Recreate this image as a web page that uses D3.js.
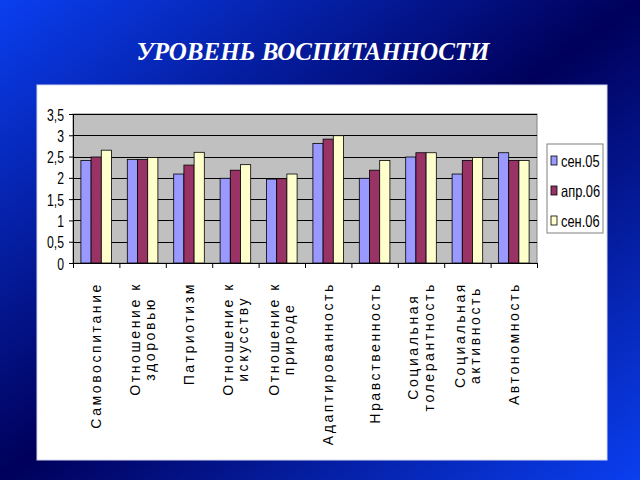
<!DOCTYPE html>
<html>
<head>
<meta charset="utf-8">
<script src="https://cdnjs.cloudflare.com/ajax/libs/d3/7.8.5/d3.min.js"></script>
<style>
  html, body { margin: 0; padding: 0; background: #000060; }
  svg { display: block; }
  .ytick text { font-family: "Liberation Sans", Arial, sans-serif; font-size: 17px; fill: #000; }
  .cat text { font-family: "Liberation Sans", Arial, sans-serif; font-size: 14px; letter-spacing: 2.6px; fill: #000; }
  .legend text { font-family: "Liberation Sans", Arial, sans-serif; font-size: 16.5px; fill: #000; }
</style>
</head>
<body>
<div id="chart"></div>
<script>
// categories (label lines), series names and values
const categories = [
  ["Самовоспитание"],
  ["Отношение к", "здоровью"],
  ["Патриотизм"],
  ["Отношение к", "искусству"],
  ["Отношение к", "природе"],
  ["Адаптированность"],
  ["Нравственность"],
  ["Социальная", "толерантность"],
  ["Социальная", "активность"],
  ["Автономность"]
];
const series = ["сен.05", "апр.06", "сен.06"];
const colors = ["#9999ff", "#993366", "#ffffcc"];
const sen05 = [2.41, 2.43, 2.09, 1.99, 1.97, 2.81, 1.99, 2.49, 2.09, 2.59];
const apr06 = [2.49, 2.43, 2.30, 2.18, 1.98, 2.91, 2.18, 2.59, 2.41, 2.41];
const sen06 = [2.65, 2.48, 2.60, 2.31, 2.09, 2.99, 2.41, 2.59, 2.48, 2.41];
const yTicks = [0, 0.5, 1, 1.5, 2, 2.5, 3, 3.5];
const title = "УРОВЕНЬ ВОСПИТАННОСТИ";

const values = [sen05, apr06, sen06];
const W = 640, H = 480;
const plot = { left: 73, right: 537, top: 114, bottom: 263 };

// squeeze text horizontally to mimic the narrow font of the original
function narrow(sel, f) {
  sel.each(function() {
    const len = this.getComputedTextLength();
    d3.select(this).attr("textLength", len * f).attr("lengthAdjust", "spacingAndGlyphs");
  });
}

const svg = d3.select("#chart").append("svg").attr("width", W).attr("height", H);

// slide background: bright blue corners, dark band along the anti-diagonal
const grad = svg.append("defs").append("linearGradient").attr("id", "bg")
    .attr("x1", 0).attr("y1", 0).attr("x2", 1).attr("y2", 1);
grad.append("stop").attr("offset", 0).attr("stop-color", "#0a3ff0");
grad.append("stop").attr("offset", 0.5).attr("stop-color", "#00005a");
grad.append("stop").attr("offset", 1).attr("stop-color", "#0a3ff0");
svg.append("rect").attr("width", W).attr("height", H).attr("fill", "url(#bg)");

svg.append("text").attr("x", 313).attr("y", 60)
    .attr("text-anchor", "middle")
    .style("font-family", "'Liberation Serif', 'Times New Roman', serif")
    .style("font-weight", "bold").style("font-style", "italic")
    .style("font-size", "25px").attr("fill", "#fff")
    .text(title);

// white chart panel
svg.append("rect").attr("x", 37).attr("y", 85).attr("width", 570).attr("height", 375)
    .attr("fill", "#fff").attr("stroke", "#d8d8f0").attr("stroke-width", 1);

const x0 = d3.scaleBand().domain(d3.range(categories.length))
    .range([plot.left, plot.right]).padding(0);
const x1 = d3.scaleBand().domain(series).range([0, x0.bandwidth()]).paddingOuter(0.775);
const y = d3.scaleLinear().domain([0, 3.5]).range([plot.bottom, plot.top]);
const xi = d3.scaleLinear().domain([0, categories.length]).range([plot.left, plot.right]);

// plot area
svg.append("rect").attr("x", plot.left).attr("y", plot.top)
    .attr("width", plot.right - plot.left).attr("height", plot.bottom - plot.top)
    .attr("fill", "#c0c0c0").attr("stroke", "#808080");

svg.append("g").selectAll("line").data(yTicks.filter(d => d > 0)).join("line")
    .attr("x1", plot.left).attr("x2", plot.right)
    .attr("y1", d => Math.round(y(d)) + 0.5).attr("y2", d => Math.round(y(d)) + 0.5)
    .attr("stroke", "#000").attr("stroke-width", 1);

// bars
const g = svg.append("g");
categories.forEach((c, i) => {
  g.selectAll(null).data(series).join("rect")
    .attr("x", s => x0(i) + x1(s))
    .attr("y", (s, k) => y(values[k][i]))
    .attr("width", x1.bandwidth())
    .attr("height", (s, k) => y(0) - y(values[k][i]))
    .attr("fill", (s, k) => colors[k])
    .attr("stroke", "#000").attr("stroke-width", 0.8);
});

// axes
const yAxis = svg.append("g").attr("class", "ytick")
    .attr("transform", `translate(${plot.left},0)`)
    .call(d3.axisLeft(y).tickValues(yTicks).tickSize(4).tickPadding(5)
      .tickFormat(d => String(d).replace(".", ",")));
yAxis.select(".domain").attr("stroke", "#000");
yAxis.selectAll("text").attr("dy", "0.36em").call(narrow, 0.72);

const xAxis = svg.append("g")
    .attr("transform", `translate(0,${plot.bottom})`)
    .call(d3.axisBottom(xi).tickValues(d3.range(categories.length + 1)).tickSize(5).tickFormat(""));
xAxis.select(".domain").attr("stroke", "#000");

// category labels, rotated, lines centred within the block whose top is at y=282
const labelTop = 282;
const cat = svg.append("g").attr("class", "cat");
categories.forEach((lines, i) => {
  const cx = x0(i) + x0.bandwidth() / 2;
  const lg = cat.append("g");
  const texts = lines.map((t, j) => lg.append("text").text(t));
  const maxLen = d3.max(texts, t => t.node().getComputedTextLength());
  texts.forEach((t, j) => {
    const off = (j - (lines.length - 1) / 2) * 15.5;
    t.attr("text-anchor", "middle")
      .attr("dy", "0.35em")
      .attr("transform", `translate(${cx + off},${labelTop + maxLen / 2}) rotate(-90)`);
  });
});

// legend
const leg = svg.append("g").attr("class", "legend");
leg.append("rect").attr("x", 547).attr("y", 144).attr("width", 56).attr("height", 89)
    .attr("fill", "#fff").attr("stroke", "#808080");
series.forEach((s, k) => {
  const cy = 161 + k * 30;
  leg.append("rect").attr("x", 551).attr("y", cy - 5).attr("width", 6).attr("height", 9)
    .attr("fill", colors[k]).attr("stroke", "#000").attr("stroke-width", 0.8);
  leg.append("text").attr("x", 561).attr("y", cy).attr("dy", "0.36em").text(s)
    .call(narrow, 0.78);
});
</script>
</body>
</html>
